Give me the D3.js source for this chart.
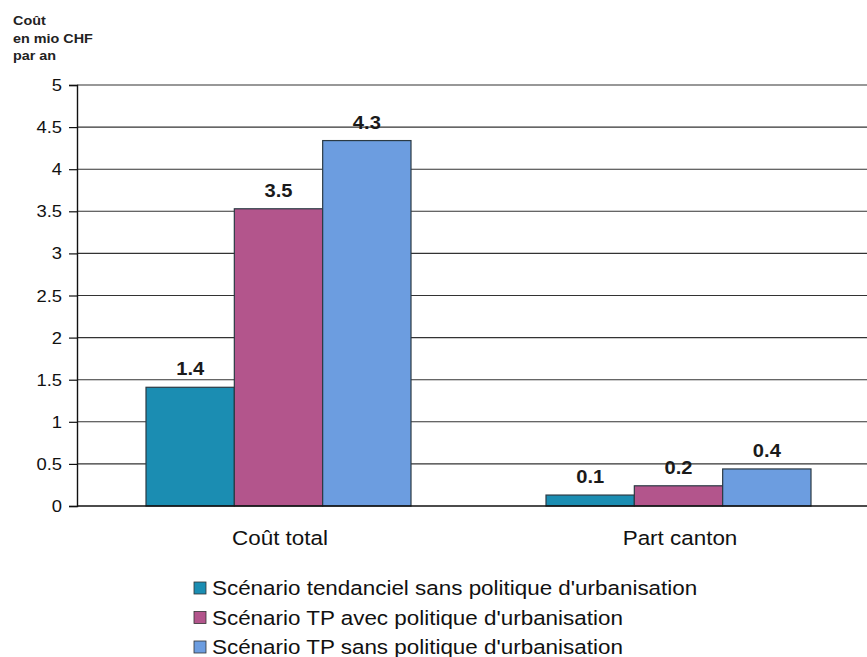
<!DOCTYPE html>
<html>
<head>
<meta charset="utf-8">
<script src="https://cdn.jsdelivr.net/npm/d3@7"></script>
<style>
  html, body { margin: 0; padding: 0; background: #fff; }
  svg { display: block; font-family: "Liberation Sans", Arial, sans-serif; }
</style>
</head>
<body>
<svg id="chart" width="867" height="657"></svg>
<script>
// Annual cost (million CHF) per scenario
const categories = ["Coût total", "Part canton"];
const scenarios = [
  "Scénario tendanciel sans politique d'urbanisation",
  "Scénario TP avec politique d'urbanisation",
  "Scénario TP sans politique d'urbanisation"
];
const tendanciel = [1.41, 0.13];
const tpAvec = [3.53, 0.24];
const tpSans = [4.34, 0.44];
const yTicks = [0, 0.5, 1, 1.5, 2, 2.5, 3, 3.5, 4, 4.5, 5];
const yTitle = ["Coût", "en mio CHF", "par an"];
const colors = ["#1b8db2", "#b3558c", "#6c9de0"];

const series = [tendanciel, tpAvec, tpSans];

// the lettering is set slightly wide
const SX = 1.15;

const svg = d3.select("#chart");
const margin = { left: 77, top: 85, bottom: 506, right: 877 };

const y = d3.scaleLinear().domain([0, 5]).range([margin.bottom, margin.top]);
const x0 = d3.scaleBand().domain(categories).range([margin.left, margin.right]);
const x1 = d3.scaleBand().domain(d3.range(scenarios.length)).range([69, 334]);

// place a horizontally widened text label
function wideText(sel, x, yy) {
  return sel.attr("x", 0).attr("y", 0)
    .attr("transform", (d, i) => `translate(${x(d, i)},${yy(d, i)}) scale(${SX},1)`);
}

// horizontal gridlines
svg.append("g")
  .selectAll("line")
  .data(yTicks.filter(t => t > 0))
  .join("line")
  .attr("x1", margin.left).attr("x2", 867)
  .attr("y1", d => y(d)).attr("y2", d => y(d))
  .attr("stroke", "#333").attr("stroke-width", 1.1);

// y axis
const yAxis = svg.append("g")
  .attr("transform", `translate(${margin.left},0)`)
  .call(d3.axisLeft(y).tickValues(yTicks).tickSize(8).tickPadding(7).tickFormat(d3.format("")));
yAxis.select(".domain").attr("stroke", "#111").attr("stroke-width", 1.4);
yAxis.selectAll(".tick line").attr("stroke", "#111").attr("stroke-width", 1.2);
yAxis.selectAll(".tick text")
  .attr("font-size", 16)
  .attr("fill", "#111")
  .attr("font-family", "Liberation Sans, Arial, sans-serif")
  .attr("x", 0).attr("dy", null)
  .attr("transform", `translate(-15,5.5) scale(${SX},1)`);

// bars
const groups = svg.append("g")
  .selectAll("g")
  .data(categories)
  .join("g")
  .attr("transform", d => `translate(${x0(d)},0)`);

groups.selectAll("rect")
  .data((c, i) => series.map((s, k) => ({ k, v: s[i] })))
  .join("rect")
  .attr("x", d => x1(d.k))
  .attr("width", x1.bandwidth())
  .attr("y", d => y(d.v))
  .attr("height", d => y(0) - y(d.v))
  .attr("fill", d => colors[d.k])
  .attr("stroke", "#2b3a44")
  .attr("stroke-width", 1.2);

wideText(
  groups.selectAll("text.val")
    .data((c, i) => series.map((s, k) => ({ k, v: s[i] })))
    .join("text")
    .attr("class", "val"),
  d => x1(d.k) + x1.bandwidth() / 2,
  d => y(d.v) - 12)
  .attr("text-anchor", "middle")
  .attr("font-size", 17.5)
  .attr("font-weight", "bold")
  .attr("fill", "#1a1a1a")
  .text(d => d3.format(".1f")(d.v));

// x axis baseline
svg.append("line")
  .attr("x1", margin.left).attr("x2", 867)
  .attr("y1", y(0)).attr("y2", y(0))
  .attr("stroke", "#111").attr("stroke-width", 1.4);

// category labels
wideText(
  svg.append("g").selectAll("text").data(categories).join("text"),
  d => x0(d) + x0.bandwidth() / 2 + 3,
  () => 545)
  .attr("text-anchor", "middle")
  .attr("font-size", 19.5)
  .attr("fill", "#111")
  .text(d => d);

// y axis title
wideText(
  svg.append("g").selectAll("text").data(yTitle).join("text"),
  () => 13,
  (d, i) => 25 + i * 17.5)
  .attr("font-size", 12.5)
  .attr("font-weight", "bold")
  .attr("fill", "#222")
  .text(d => d);

// legend
const legend = svg.append("g")
  .selectAll("g")
  .data(scenarios)
  .join("g")
  .attr("transform", (d, i) => `translate(194,${588 + i * 29.5})`);
legend.append("rect")
  .attr("x", 0).attr("y", -6)
  .attr("width", 12).attr("height", 12)
  .attr("fill", (d, i) => colors[i])
  .attr("stroke", "#333").attr("stroke-width", 0.8);
legend.append("text")
  .attr("x", 0).attr("y", 0)
  .attr("transform", `translate(18,7) scale(${SX},1)`)
  .attr("font-size", 19.5)
  .attr("fill", "#111")
  .text(d => d);
</script>
</body>
</html>
